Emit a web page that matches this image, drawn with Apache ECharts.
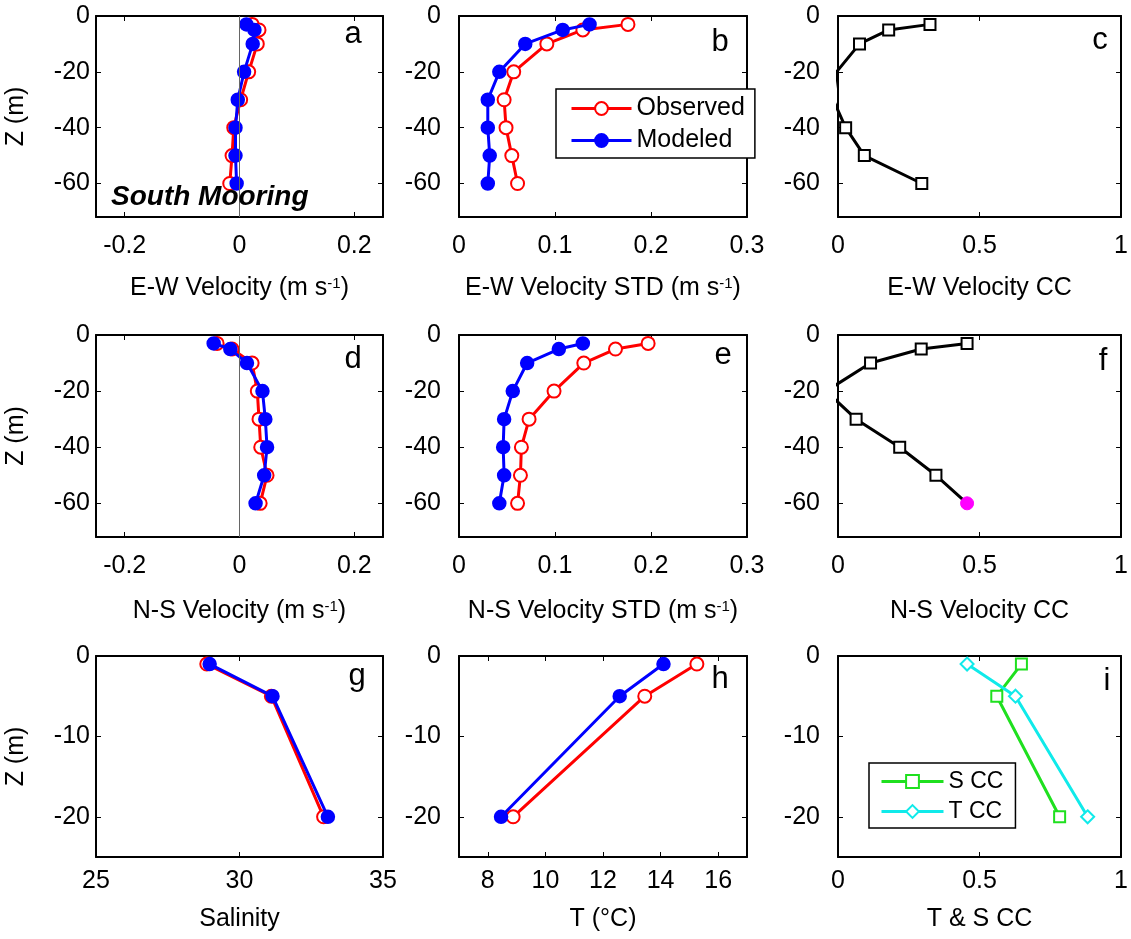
<!DOCTYPE html>
<html>
<head>
<meta charset="utf-8">
<script src="https://cdn.jsdelivr.net/npm/echarts@6/dist/echarts.min.js"></script>
<style>html,body{margin:0;padding:0;background:#fff}#chart{width:1131px;height:939px}</style>
</head>
<body>
<div id="chart"></div>
<script>
// ---------- data ----------
const depthVel = [-3, -5, -10, -20, -30, -40, -50, -60];
const ewObs    = [0.022, 0.034, 0.031, 0.016, 0.002, -0.010, -0.013, -0.017];
const ewMod    = [0.012, 0.026, 0.023, 0.008, -0.003, -0.007, -0.007, -0.005];
const ewStdObs = [0.176, 0.129, 0.0915, 0.057, 0.047, 0.049, 0.055, 0.061];
const ewStdMod = [0.136, 0.108, 0.069, 0.042, 0.030, 0.030, 0.032, 0.030];
const ewCC     = [0.325, 0.179, 0.076, -0.005, -0.017, 0.027, 0.093, 0.296];
const nsObs    = [-0.039, -0.013, 0.022, 0.031, 0.034, 0.037, 0.048, 0.036];
const nsMod    = [-0.045, -0.016, 0.013, 0.040, 0.045, 0.048, 0.043, 0.028];
const nsStdObs = [0.197, 0.163, 0.130, 0.099, 0.073, 0.065, 0.064, 0.061];
const nsStdMod = [0.129, 0.104, 0.071, 0.056, 0.047, 0.046, 0.047, 0.042];
const nsCC     = [0.456, 0.294, 0.115, -0.042, 0.064, 0.218, 0.346, 0.456];

const depthTS  = [-1, -5, -20];
const salObs   = [28.86, 31.11, 32.93];
const salMod   = [28.96, 31.15, 33.08];
const tempObs  = [15.26, 13.45, 8.88];
const tempMod  = [14.10, 12.58, 8.46];
const sCC      = [0.648, 0.561, 0.783];
const tCC      = [0.456, 0.627, 0.882];

const velTicksX  = [-0.2, 0, 0.2];
const stdTicksX  = [0, 0.1, 0.2, 0.3];
const ccTicksX   = [0, 0.5, 1];
const salTicksX  = [25, 30, 35];
const tempTicksX = [8, 10, 12, 14, 16];
const velTicksY  = [0, -20, -40, -60];
const tsTicksY   = [0, -10, -20];

const panelLetters = ['a','b','c','d','e','f','g','h','i'];

// ---------- styling / layout ----------
const FONT = 'Liberation Sans, Arial, Helvetica, sans-serif';
const FS = 25;
const RED = '#ff0000', BLUE = '#0000ff', BLACK = '#000000', GREEN = '#1fe01f', CYAN = '#10eaea', MAGENTA = '#ff00ff';
const colLeft = [96, 459, 838], colW = [287, 288, 286];
const rowTop = [16, 335, 656], rowH = [201, 202, 201];
const xNameGap = [59, 62, 50], xLabMargin = [17, 17, 12];
const yLabMargin = [6, 18, 18];

const zip = (xs, ys) => xs.map((x, i) => [x, ys[i]]);

function obs(x, y) { return { name: 'Observed', data: zip(x, y), color: RED, symbol: 'emptyCircle', size: 13 }; }
function mod(x, y) { return { name: 'Modeled', data: zip(x, y), color: BLUE, symbol: 'circle', size: 12 }; }
function cc(x, y, magentaLast) {
  const d = zip(x, y).map(p => ({ value: p }));
  if (magentaLast) {
    d[d.length - 1] = { value: d[d.length - 1].value, symbol: 'circle', symbolSize: 13,
      itemStyle: { color: MAGENTA, borderColor: MAGENTA, borderWidth: 1 } };
  }
  return { name: 'CC', data: d, color: BLACK, symbol: 'emptyRect', size: 11 };
}

const panels = [
  { x: [-0.25, 0.25], xt: velTicksX, y: [-72, 0], yt: velTicksY, name: 'E-W Velocity (m s{sup|-1})', zero: true,
    series: [obs(ewObs, depthVel), mod(ewMod, depthVel)] },
  { x: [0, 0.3], xt: stdTicksX, y: [-72, 0], yt: velTicksY, name: 'E-W Velocity STD (m s{sup|-1})',
    series: [obs(ewStdObs, depthVel), mod(ewStdMod, depthVel)] },
  { x: [0, 1], xt: ccTicksX, y: [-72, 0], yt: velTicksY, name: 'E-W Velocity CC',
    series: [cc(ewCC, depthVel, false)] },
  { x: [-0.25, 0.25], xt: velTicksX, y: [-72, 0], yt: velTicksY, name: 'N-S Velocity (m s{sup|-1})', zero: true,
    series: [obs(nsObs, depthVel), mod(nsMod, depthVel)] },
  { x: [0, 0.3], xt: stdTicksX, y: [-72, 0], yt: velTicksY, name: 'N-S Velocity STD (m s{sup|-1})',
    series: [obs(nsStdObs, depthVel), mod(nsStdMod, depthVel)] },
  { x: [0, 1], xt: ccTicksX, y: [-72, 0], yt: velTicksY, name: 'N-S Velocity CC',
    series: [cc(nsCC, depthVel, true)] },
  { x: [25, 35], xt: salTicksX, y: [-25, 0], yt: tsTicksY, name: 'Salinity',
    series: [obs(salObs, depthTS), mod(salMod, depthTS)] },
  { x: [7, 17], xt: tempTicksX, y: [-25, 0], yt: tsTicksY, name: 'T (°C)',
    series: [obs(tempObs, depthTS), mod(tempMod, depthTS)] },
  { x: [0, 1], xt: ccTicksX, y: [-25, 0], yt: tsTicksY, name: 'T & S CC',
    series: [
      { name: 'S CC', data: zip(sCC, depthTS), color: GREEN, symbol: 'emptyRect', size: 11 },
      { name: 'T CC', data: zip(tCC, depthTS), color: CYAN, symbol: 'emptyDiamond', size: 13 }
    ] }
];

const letterPos = [[353,34],[720,42],[1100,40],[353,359],[723,355],[1103,361],[357,676],[720,679],[1107,681]];

const grid = [], xAxis = [], yAxis = [], series = [], graphic = [];
const axisLineStyle = { show: true, onZero: false, lineStyle: { color: BLACK, width: 2 } };
const tickStyle = (vals) => ({ show: true, inside: true, length: 5, customValues: vals, lineStyle: { color: BLACK, width: 1 } });
const nameStyle = {
  fontSize: FS, color: BLACK, fontFamily: FONT,
  rich: { sup: { fontSize: 15, color: BLACK, fontFamily: FONT, verticalAlign: 'top', lineHeight: 15 } }
};

panels.forEach((p, i) => {
  const r = Math.floor(i / 3), c = i % 3;
  grid.push({ left: colLeft[c], top: rowTop[r], width: colW[c], height: rowH[r], show: false });
  xAxis[i] = {
    type: 'value', gridIndex: i, position: 'bottom', min: p.x[0], max: p.x[1],
    axisLine: axisLineStyle, axisTick: tickStyle(p.xt), splitLine: { show: false },
    axisLabel: { customValues: p.xt, margin: xLabMargin[r], fontSize: FS, color: BLACK, fontFamily: FONT },
    name: p.name, nameLocation: 'middle', nameGap: xNameGap[r], nameTextStyle: nameStyle
  };
  xAxis[i + 9] = {
    type: 'value', gridIndex: i, position: 'top', min: p.x[0], max: p.x[1],
    axisLine: axisLineStyle, axisTick: tickStyle(p.xt), axisLabel: { show: false }, splitLine: { show: false }
  };
  yAxis[i] = {
    type: 'value', gridIndex: i, position: 'left', min: p.y[0], max: p.y[1],
    axisLine: axisLineStyle, axisTick: tickStyle(p.yt), splitLine: { show: false },
    axisLabel: { customValues: p.yt, margin: yLabMargin[c], fontSize: FS, color: BLACK, fontFamily: FONT },
    name: c === 0 ? 'Z (m)' : '', nameLocation: 'middle', nameGap: 67, nameRotate: 90, nameTextStyle: nameStyle
  };
  yAxis[i + 9] = {
    type: 'value', gridIndex: i, position: 'right', min: p.y[0], max: p.y[1],
    axisLine: axisLineStyle, axisTick: tickStyle(p.yt), axisLabel: { show: false }, splitLine: { show: false }
  };
  p.series.forEach((s, k) => {
    const ser = {
      type: 'line', name: s.name, xAxisIndex: i, yAxisIndex: i, data: s.data,
      symbol: s.symbol, symbolSize: s.size, showAllSymbol: true, clip: true,
      color: s.color,
      lineStyle: { color: s.color, width: 3 },
      itemStyle: { color: s.color, borderColor: s.color, borderWidth: 2.5 },
      emphasis: { disabled: true }, z: 3 + k
    };
    if (p.zero && k === 0) {
      ser.markLine = {
        silent: true, symbol: ['none', 'none'], label: { show: false }, animation: false,
        lineStyle: { color: '#666', width: 1, type: 'solid' }, data: [{ xAxis: 0 }]
      };
    }
    series.push(ser);
  });
  graphic.push({
    type: 'text', x: letterPos[i][0], y: letterPos[i][1], z: 100,
    style: { text: panelLetters[i], fill: BLACK, font: '31px ' + FONT, fontSize: 31, fontFamily: FONT,
             textAlign: 'center', textVerticalAlign: 'middle', align: 'center', verticalAlign: 'middle' }
  });
});

graphic.push({
  type: 'text', x: 111, y: 197, z: 100,
  style: { text: 'South Mooring', fill: BLACK, font: 'italic bold 28px ' + FONT, fontSize: 28, fontWeight: 'bold', fontStyle: 'italic', fontFamily: FONT,
           textAlign: 'left', textVerticalAlign: 'middle', align: 'left', verticalAlign: 'middle' }
});

const legendBase = {
  orient: 'vertical', borderColor: BLACK, borderWidth: 1.5, backgroundColor: '#fff',
  itemWidth: 60, itemHeight: 16, selectedMode: false, z: 50,
  lineStyle: { width: 3 }
};

const option = {
  animation: false,
  backgroundColor: '#fff',
  textStyle: { fontFamily: FONT },
  grid, xAxis, yAxis, series, graphic,
  legend: [
    Object.assign({}, legendBase, {
      data: ['Observed', 'Modeled'], left: 556, top: 89, padding: [7, 10, 5, 14], itemGap: 7,
      textStyle: { fontSize: FS, color: BLACK, fontFamily: FONT }
    }),
    Object.assign({}, legendBase, {
      data: ['S CC', 'T CC'], left: 869, top: 763, padding: [7, 12, 5, 11], itemGap: 7, itemWidth: 62,
      textStyle: { fontSize: 23, color: BLACK, fontFamily: FONT }
    })
  ]
};

const chart = echarts.init(document.getElementById('chart'), null, { renderer: 'canvas' });
chart.setOption(option);
</script>
</body>
</html>
